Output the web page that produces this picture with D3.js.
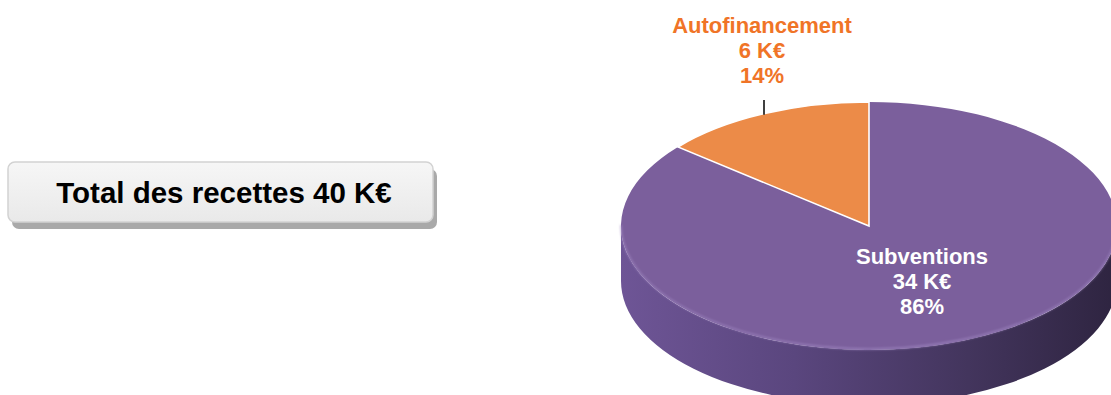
<!DOCTYPE html>
<html>
<head>
<meta charset="utf-8">
<script src="https://cdn.jsdelivr.net/npm/d3@7"></script>
<style>
  html, body { margin: 0; padding: 0; background: #ffffff; }
  svg { display: block; font-family: "Liberation Sans", Arial, sans-serif; }
</style>
</head>
<body>
<svg id="chart" width="1111" height="395"></svg>
<script>
// Recettes : répartition par source
const categories = ["Subventions", "Autofinancement"];
const amounts = [34, 6];          // K€
const shares = [86, 14];          // %
const totalLabel = "Total des recettes 40 K€";

const topColors = ["#7b5f9c", "#ec8b48"];
const labelColors = ["#ffffff", "#f07427"];

const svg = d3.select("#chart");

// Pie geometry (ellipse seen in perspective)
const cx = 869, cy = 226, rx = 248, ry = 124, depth = 55;
const k = ry / rx;

const defs = svg.append("defs");

const sideGrad = defs.append("linearGradient")
  .attr("id", "sideGrad").attr("x1", "0").attr("x2", "1").attr("y1", "0").attr("y2", "0");
sideGrad.append("stop").attr("offset", "0").attr("stop-color", "#6e5596");
sideGrad.append("stop").attr("offset", "0.35").attr("stop-color", "#5a467e");
sideGrad.append("stop").attr("offset", "0.7").attr("stop-color", "#43355d");
sideGrad.append("stop").attr("offset", "1").attr("stop-color", "#2e2440");

const boxGrad = defs.append("linearGradient")
  .attr("id", "boxGrad").attr("x1", "0").attr("x2", "0").attr("y1", "0").attr("y2", "1");
boxGrad.append("stop").attr("offset", "0").attr("stop-color", "#f6f6f6");
boxGrad.append("stop").attr("offset", "1").attr("stop-color", "#e9e9e9");

defs.append("filter").attr("id", "soft")
  .append("feGaussianBlur").attr("stdDeviation", 0.8);
defs.append("filter").attr("id", "shadowBlur")
  .append("feGaussianBlur").attr("stdDeviation", 0.7);

// ---- Total box ----
const box = { x: 8, y: 162, w: 425, h: 60 };
svg.append("rect")
  .attr("x", box.x + 4).attr("y", box.y + 7)
  .attr("width", box.w).attr("height", box.h)
  .attr("rx", 7).attr("fill", "#a9a9a9")
  .attr("filter", "url(#shadowBlur)");
svg.append("rect")
  .attr("x", box.x).attr("y", box.y)
  .attr("width", box.w).attr("height", box.h)
  .attr("rx", 7).attr("fill", "url(#boxGrad)")
  .attr("stroke", "#d2d2d2").attr("stroke-width", 1.5);
svg.append("text")
  .attr("x", 224).attr("y", 203)
  .attr("text-anchor", "middle")
  .attr("font-size", 29.5).attr("font-weight", "bold").attr("fill", "#000")
  .text(totalLabel);

// ---- Pie ----
const pie = d3.pie().sort(null).value(d => d);
const arcs = pie(shares);

// point on the top ellipse for a d3 angle (0 at top, clockwise)
const px = a => cx + rx * Math.sin(a);
const py = (a, dy = 0) => cy - ry * Math.cos(a) + dy;

// Visible side wall: portion of each slice between angles PI/2 and 3PI/2
const sideG = svg.append("g");
arcs.forEach((d, i) => {
  const a0 = Math.max(d.startAngle, Math.PI / 2);
  const a1 = Math.min(d.endAngle, 3 * Math.PI / 2);
  if (a1 <= a0) return;
  const large = (a1 - a0) > Math.PI ? 1 : 0;
  const path =
    `M${px(a0)},${py(a0)}` +
    `A${rx},${ry} 0 ${large} 1 ${px(a1)},${py(a1)}` +
    `L${px(a1)},${py(a1, depth)}` +
    `A${rx},${ry} 0 ${large} 0 ${px(a0)},${py(a0, depth)}Z`;
  sideG.append("path")
    .attr("d", path)
    .attr("fill", i === 0 ? "url(#sideGrad)" : "#b8672f");
});

// Top faces, drawn with d3.arc on a vertically squashed group
const arcGen = d3.arc().innerRadius(0).outerRadius(rx);
const topG = svg.append("g")
  .attr("transform", `translate(${cx},${cy}) scale(1,${k})`);
topG.selectAll("path.slice")
  .data(arcs)
  .join("path")
  .attr("class", "slice")
  .attr("d", arcGen)
  .attr("fill", (d, i) => topColors[i])
  .attr("stroke", (d, i) => i === 1 ? "#ffffff" : "none")
  .attr("stroke-width", 1.6)
  .attr("vector-effect", "non-scaling-stroke");

// soft light rim along the front edge of the top face
const rimA0 = Math.PI * 0.55, rimA1 = Math.PI * 1.5;
svg.append("path")
  .attr("d", `M${px(rimA0)},${py(rimA0) - 1}A${rx},${ry} 0 0 1 ${px(rimA1)},${py(rimA1) - 1}`)
  .attr("fill", "none")
  .attr("stroke", "#a48bc6")
  .attr("stroke-width", 1.6)
  .attr("stroke-opacity", 0.7)
  .attr("filter", "url(#soft)");

// ---- Labels ----
const labelPos = [
  { x: 922, y: 264 },
  { x: 762, y: 33 }
];
const lineH = 25;
arcs.forEach((d, i) => {
  const t = svg.append("text")
    .attr("text-anchor", "middle")
    .attr("font-size", 22)
    .attr("font-weight", "bold")
    .attr("fill", labelColors[i]);
  const lines = [categories[i], `${amounts[i]} K€`, `${shares[i]}%`];
  lines.forEach((s, j) => {
    t.append("tspan").attr("x", labelPos[i].x).attr("y", labelPos[i].y + j * lineH).text(s);
  });
});

// leader line from the small slice's outer edge up to its label
const lx = 764;
const edgeY = cy - ry * Math.sqrt(1 - ((lx - cx) / rx) ** 2);
svg.append("line")
  .attr("x1", lx).attr("x2", lx)
  .attr("y1", 100).attr("y2", edgeY + 1)
  .attr("stroke", "#000").attr("stroke-width", 1.5);
</script>
</body>
</html>
